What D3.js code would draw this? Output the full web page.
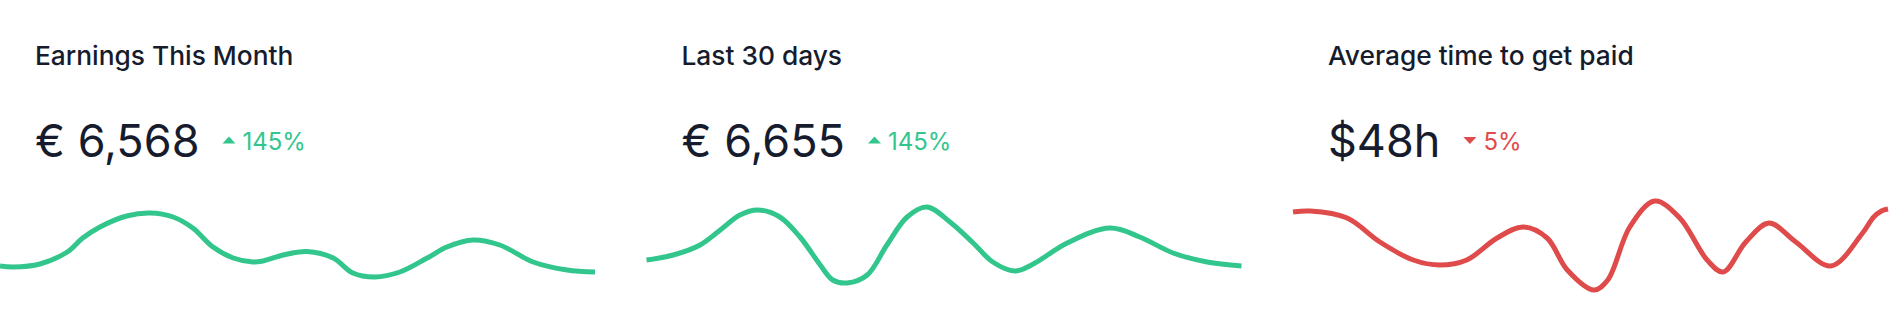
<!DOCTYPE html>
<html>
<head>
<meta charset="utf-8">
<script src="https://cdn.jsdelivr.net/npm/d3@7"></script>
<style>
  html, body { margin: 0; padding: 0; background: #ffffff; }
  svg { display: block; }
</style>
</head>
<body>
<svg id="chart" width="1889" height="334"></svg>
<script>
// ---- data ----
const titles = ["Earnings This Month", "Last 30 days", "Average time to get paid"];
const amounts = ["€ 6,568", "€ 6,655", "$48h"];
const changes = ["145%", "145%", "5%"];
const directions = ["up", "up", "down"];

// x: position within period (0–100 %), y: relative value (0–100)
const earningsX = [0, 2.2, 6.7, 11.3, 13.9, 16.8, 21.3, 25.2, 29.1, 32.4, 35.8, 39.2, 42.5, 44.2, 47.6, 51.6, 56.0, 59.3, 63.0, 67.2, 71.8, 75.1, 79.5, 84.0, 89.6, 95.3, 100];
const earningsY = [34, 33, 36, 48, 62, 73, 84, 87, 83, 72, 53, 42, 38, 39, 45, 48.5, 42, 27, 23, 28, 42, 53, 60, 55, 38, 30, 28];

const last30X = [0, 4.5, 9.0, 12.4, 15.7, 18.7, 22.4, 25.8, 29.2, 31.3, 33.7, 37.1, 40.4, 43.8, 47.1, 51.0, 54.9, 58.2, 61.9, 65.0, 70.7, 77.9, 82.9, 88.5, 94.2, 100];
const last30Y = [40, 45, 55, 70, 85, 90, 83, 63, 35, 20, 17, 25, 55, 83, 93, 78, 57, 38, 29, 36, 57, 72, 63, 47, 38, 34];

const paidX = [0, 2.9, 9.1, 14.6, 20.2, 24.7, 29.2, 34.3, 38.7, 42.7, 46.1, 50.6, 52.9, 56.6, 60.8, 65.0, 69.6, 72.3, 76.1, 80.0, 84.5, 90.4, 95.6, 97.6, 98.9, 100];
const paidY = [88, 89, 82, 58, 40, 35, 40, 62, 73, 62, 30, 10, 20, 73, 99, 82, 40, 28, 58, 77, 58, 34, 66, 83, 89, 91];

const seriesX = [earningsX, last30X, paidX];
const seriesY = [earningsY, last30Y, paidY];

// ---- styles ----
const textColor = "#161c2d";
const green = "#32c68d";
const red = "#df4b4b";
const font = "Inter, 'Noto Sans', sans-serif";

const svg = d3.select("#chart");
const cardWidth = 595;
const cardStep = 646.5;

const y = d3.scaleLinear().domain([0, 100]).range([300, 200]);

titles.forEach((title, i) => {
  const cx = i * cardStep;
  const color = directions[i] === "up" ? green : red;
  const g = svg.append("g");

  g.append("text")
    .attr("x", cx + 35)
    .attr("y", 65)
    .attr("font-family", font)
    .attr("font-size", 26.3)
    .attr("font-weight", 500)
    .attr("fill", textColor)
    .text(title);

  const amt = g.append("text")
    .attr("x", cx + 35)
    .attr("y", 157)
    .attr("font-family", font)
    .attr("font-size", 45)
    .attr("fill", textColor)
    .text(amounts[i]);

  const w = amt.node().getComputedTextLength();
  const tx = cx + 35 + w + 23;
  const tri = directions[i] === "up"
    ? `M${tx},${143.5} L${tx + 13},${143.5} L${tx + 6.5},${136.5} Z`
    : `M${tx},${137} L${tx + 13},${137} L${tx + 6.5},${144} Z`;
  g.append("path").attr("d", tri).attr("fill", color);

  g.append("text")
    .attr("x", tx + 20)
    .attr("y", 150)
    .attr("font-family", font)
    .attr("font-size", 24)
    .attr("fill", color)
    .text(changes[i]);

  const x = d3.scaleLinear().domain([0, 100]).range([cx, cx + cardWidth]);
  const data = seriesX[i].map((v, k) => [v, seriesY[i][k]]);
  const line = d3.line()
    .x(d => x(d[0]))
    .y(d => y(d[1]))
    .curve(d3.curveCatmullRom.alpha(0.5));

  g.append("path")
    .datum(data)
    .attr("d", line)
    .attr("fill", "none")
    .attr("stroke", color)
    .attr("stroke-width", 5)
    .attr("stroke-linecap", "butt")
    .attr("stroke-linejoin", "round");
});
</script>
</body>
</html>
